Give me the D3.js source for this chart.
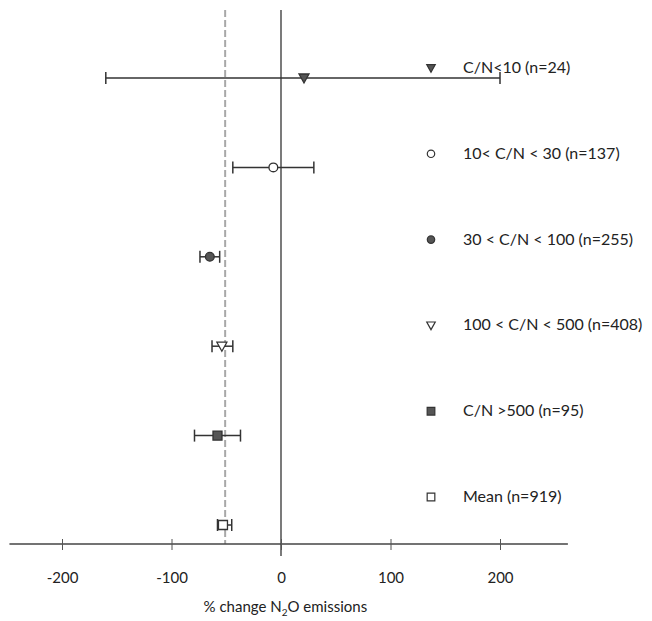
<!DOCTYPE html>
<html>
<head>
<meta charset="utf-8">
<script src="https://cdn.jsdelivr.net/npm/d3@7"></script>
<style>
  body { margin: 0; background: #fff; }
  text { font-family: Lato, "Open Sans", sans-serif; fill: #222; }
</style>
</head>
<body>
<div id="chart"></div>
<script>
// data
const groups = ['C/N<10', '10-30', '30-100', '100-500', '>500', 'Mean']
const means = [21, -7, -65, -54, -58, -53]
const lower = [-160, -44, -74, -63, -79, -58]
const upper = [200, 30, -56, -44, -37, -45]
const shapes = ['triDown', 'circle', 'circle', 'triDown', 'square', 'square']
const filled = [true, false, true, false, true, false]
const legendLabels = ['C/N<10 (n=24)', '10< C/N < 30 (n=137)', '30 < C/N < 100 (n=255)', '100 < C/N < 500 (n=408)', 'C/N >500 (n=95)', 'Mean (n=919)']
const overallMean = -51
const xTicks = [-200, -100, 0, 100, 200]

const width = 652
const height = 621

const svg = d3.select('#chart').append('svg').attr('width', width).attr('height', height)

const x = d3.scaleLinear().domain([-200, 200]).range([62, 500])
const y = d3.scalePoint().domain(groups).range([78, 525])
const yLegend = d3.scalePoint().domain(groups).range([68, 497])
const axisY = 544

// reference lines
svg.append('line')
    .attr('x1', x(overallMean)).attr('x2', x(overallMean))
    .attr('y1', 10).attr('y2', axisY)
    .attr('stroke', '#a8a8a8').attr('stroke-width', 2).attr('stroke-dasharray', '7,3')
svg.append('line')
    .attr('x1', x(0)).attr('x2', x(0))
    .attr('y1', 10).attr('y2', 556)
    .attr('stroke', '#333').attr('stroke-width', 1.3)

// x axis
const axisGroup = svg.append('g').attr('transform', `translate(0, ${axisY})`)
axisGroup.append('line')
    .attr('x1', x(-248)).attr('x2', x(262))
    .attr('stroke', '#444').attr('stroke-width', 1.3)
const xAxis = d3.axisBottom(x).tickValues(xTicks).tickFormat(d => String(d)).tickSize(6).tickPadding(22)
const xAxisGroup = axisGroup.append('g').call(xAxis)
xAxisGroup.select('.domain').remove()
xAxisGroup.selectAll('.tick line').attr('y1', -5).attr('y2', 6).attr('stroke', '#555')
xAxisGroup.selectAll('.tick text').style('font-size', '15px').style('font-family', 'Lato, sans-serif').attr('fill', '#222')

const title = svg.append('text').attr('x', x(4)).attr('y', 612).attr('text-anchor', 'middle').style('font-size', '15px')
title.append('tspan').text('% change N')
title.append('tspan').attr('dy', 4).style('font-size', '10px').text('2')
title.append('tspan').attr('dy', -4).text('O emissions')

// error bars
const rows = groups.map((g, i) => ({g, m: means[i], lo: lower[i], hi: upper[i], shape: shapes[i], fill: filled[i], label: legendLabels[i]}))
const bars = svg.append('g')
bars.selectAll('line.err').data(rows).enter().append('line')
    .attr('x1', d => x(d.lo)).attr('x2', d => x(d.hi))
    .attr('y1', d => y(d.g)).attr('y2', d => y(d.g))
    .attr('stroke', '#333').attr('stroke-width', 1.5)
bars.selectAll('line.capL').data(rows).enter().append('line')
    .attr('x1', d => x(d.lo)).attr('x2', d => x(d.lo))
    .attr('y1', d => y(d.g) - 6).attr('y2', d => y(d.g) + 6)
    .attr('stroke', '#333').attr('stroke-width', 1.5)
bars.selectAll('line.capR').data(rows).enter().append('line')
    .attr('x1', d => x(d.hi)).attr('x2', d => x(d.hi))
    .attr('y1', d => y(d.g) - 6).attr('y2', d => y(d.g) + 6)
    .attr('stroke', '#333').attr('stroke-width', 1.5)

function symbolPath(shape, s) {
    if (shape === 'triDown') return `M${-5 * s},${-4 * s}L${5 * s},${-4 * s}L0,${5 * s}Z`
    if (shape === 'square') return `M${-4.5 * s},${-4.5 * s}H${4.5 * s}V${4.5 * s}H${-4.5 * s}Z`
    return d3.symbol().type(d3.symbolCircle).size(60 * s * s)()
}

svg.append('g').selectAll('path').data(rows).enter().append('path')
    .attr('transform', d => `translate(${x(d.m)}, ${y(d.g)})`)
    .attr('d', d => symbolPath(d.shape, 1))
    .attr('fill', d => d.fill ? '#555' : '#fff')
    .attr('stroke', '#333').attr('stroke-width', 1.3)

// legend
const legend = svg.append('g')
legend.selectAll('path').data(rows).enter().append('path')
    .attr('transform', d => `translate(431, ${yLegend(d.g)})`)
    .attr('d', d => symbolPath(d.shape, 0.85))
    .attr('fill', d => d.fill ? '#555' : '#fff')
    .attr('stroke', '#333').attr('stroke-width', 1.2)
legend.selectAll('text').data(rows).enter().append('text')
    .attr('x', 463).attr('y', d => yLegend(d.g) + 5)
    .style('font-size', '16px')
    .text(d => d.label)
</script>
</body>
</html>
